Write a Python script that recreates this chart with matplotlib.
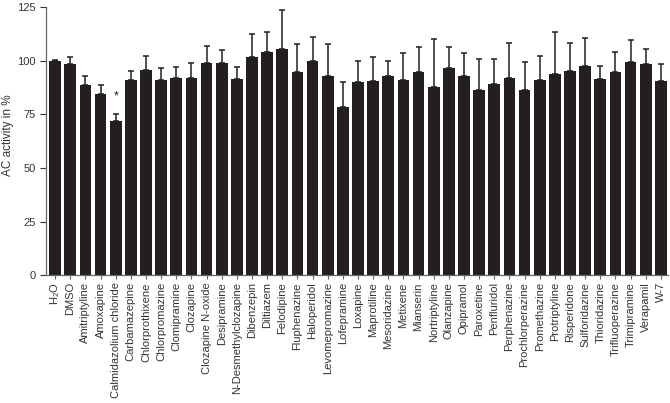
import numpy as np
import matplotlib.pyplot as plt

plt.rcParams['font.family'] = ['Liberation Sans', 'DejaVu Sans']

# Substanzen und Werte (AC-Aktivität in %), gelesen aus der Vorlage
substanzen = ['H$_\\mathregular{2}$O', 'DMSO', 'Amitriptyline', 'Amoxapine', 'Calmidazolium chloride',
              'Carbamazepine', 'Chlorprothixene', 'Chlorpromazine', 'Clomipramine', 'Clozapine',
              'Clozapine N-oxide', 'Desipramine', 'N-Desmethylclozapine', 'Dibenzepin', 'Diltiazem',
              'Felodipine', 'Fluphenazine', 'Haloperidol', 'Levomepromazine', 'Lofepramine',
              'Loxapine', 'Maprotiline', 'Mesoridazine', 'Metixene', 'Mianserin',
              'Nortriptyline', 'Olanzapine', 'Opipramol', 'Paroxetine', 'Penfluridol',
              'Perphenazine', 'Prochlorperazine', 'Promethazine', 'Protriptyline', 'Risperidone',
              'Sulforidazine', 'Thioridazine', 'Trifluoperazine', 'Trimipramine', 'Verapamil', 'W-7']
aktivitaet = [100, 98.5, 88.5, 84.5, 72, 91, 95.5, 91, 92, 92,
              99, 99, 91.5, 101.5, 104, 105.5, 94.5, 100, 93, 78.5,
              90, 90.5, 93, 91, 94.5, 87.5, 96.5, 93, 86.5, 89,
              92, 86.5, 91, 93.5, 95, 97.5, 91.5, 94.5, 99.5, 98.5, 90.5]
fehler = [0.3, 3, 4.5, 4, 3.3, 4, 6.5, 5.3, 4.8, 7,
          8, 5.8, 5.5, 11, 9.5, 18, 13.3, 11, 14.7, 11.3,
          10, 11, 7, 12.3, 11.7, 22.7, 9.7, 10.7, 14, 11.6,
          16, 13, 11, 20, 13, 13, 6, 9.6, 10, 7, 8]
signifikant = ['Calmidazolium chloride']

x = np.arange(len(substanzen))
fig = plt.figure(figsize=(6.7, 4.03), dpi=100)
ax = fig.add_axes([0.0687, 0.317, 0.928, 0.666])

ax.bar(x, aktivitaet, width=0.77, color='#231f20', zorder=2)
ax.errorbar(x, aktivitaet, yerr=[np.zeros(len(fehler)), fehler], fmt='none',
            ecolor='#231f20', elinewidth=1.1, capsize=2.5, capthick=1.1, zorder=1)

for nombre in signifikant:
    i = substanzen.index(nombre)
    ax.text(x[i], aktivitaet[i] + fehler[i] + 5, '*', ha='center', va='bottom',
            fontsize=9, color='#231f20')

ax.set_xlim(-0.6, 40.46)
ax.set_ylim(0, 125)
ax.set_yticks([0, 25, 50, 75, 100, 125])
ax.set_xticks(x)
ax.set_xticklabels(substanzen, rotation=90, fontsize=8, color='#333333')
ax.tick_params(axis='y', labelsize=8, colors='#333333', length=4, width=0.8)
ax.tick_params(axis='x', length=3, width=0.8, color='#666666', pad=2)
ax.set_ylabel('AC activity in %', fontsize=8.5, color='#333333')
ax.yaxis.set_label_coords(-0.0515, 0.52)

for lado in ['top', 'right']:
    ax.spines[lado].set_visible(False)
for lado in ['left', 'bottom']:
    ax.spines[lado].set_color('#666666')
    ax.spines[lado].set_linewidth(0.9)

fig.savefig('out.png', dpi=100)
